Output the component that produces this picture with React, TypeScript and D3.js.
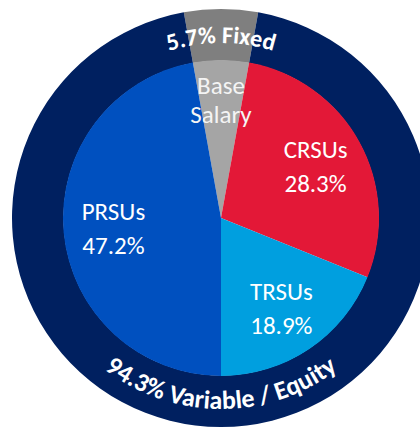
import { useEffect, useRef } from "react";
import * as d3 from "d3";

// Outer ring: fixed vs variable pay
const ringLabels = ["5.7% Fixed", "94.3% Variable / Equity"];
const ringValues = [5.7, 94.3];
const ringColors = ["#7f7f7f", "#002060"];

// Inner pie: pay components
const sliceNames = ["Base Salary", "CRSUs", "TRSUs", "PRSUs"];
const sliceValues = [5.7, 28.3, 18.9, 47.2];
const sliceColors = ["#a5a5a5", "#e31837", "#009fdf", "#0050bf"];

const W = 420;
const H = 429;

export default function App() {
  const svgRef = useRef<SVGSVGElement>(null);

  useEffect(() => {
    if (!svgRef.current) return;
    const svg = d3.select(svgRef.current);
    svg.selectAll("*").remove();

    const cx = 221;
    const cy = 218;
    const rPie = 158;
    const rRing = 209;
    const start = -(ringValues[0] / 100) * Math.PI;

    const g = svg.append("g").attr("transform", `translate(${cx},${cy})`);

    // Outer ring
    const ringPie = d3
      .pie<number>()
      .sort(null)
      .value((d) => d)
      .startAngle(start)
      .endAngle(start + 2 * Math.PI);
    const ringArc = d3.arc<d3.PieArcDatum<number>>().innerRadius(rPie - 0.5).outerRadius(rRing);
    const ringData = ringPie(ringValues);

    g.selectAll("path.ring")
      .data(ringData)
      .join("path")
      .attr("class", "ring")
      .attr("d", ringArc)
      .attr("fill", (_d, i) => ringColors[i]);

    // Inner pie
    const pie = d3
      .pie<number>()
      .sort(null)
      .value((d) => d)
      .startAngle(start)
      .endAngle(start + 2 * Math.PI);
    const arc = d3.arc<d3.PieArcDatum<number>>().innerRadius(0).outerRadius(rPie);
    const pieData = pie(sliceValues);

    g.selectAll("path.slice")
      .data(pieData)
      .join("path")
      .attr("class", "slice")
      .attr("d", arc)
      .attr("fill", (_d, i) => sliceColors[i]);

    // Slice labels
    const labelArc = d3.arc<d3.PieArcDatum<number>>().innerRadius(108).outerRadius(108);
    const baseArc = d3.arc<d3.PieArcDatum<number>>().innerRadius(119).outerRadius(119);
    pieData.forEach((d, i) => {
      const isBase = i === 0;
      const [x, y] = isBase ? baseArc.centroid(d) : labelArc.centroid(d);
      const lines = isBase
        ? sliceNames[i].split(" ")
        : [sliceNames[i], `${sliceValues[i].toFixed(1)}%`];
      const lh = isBase ? 29 : 34;
      const t = g
        .append("text")
        .attr("text-anchor", "middle")
        .attr("font-family", "Carlito, Lato, sans-serif")
        .attr("font-size", 25)
        .attr("fill", isBase ? "#f4f4f4" : "#ffffff");
      lines.forEach((ln, j) => {
        t.append("tspan")
          .attr("x", x)
          .attr("y", y + (j - (lines.length - 1) / 2) * lh + 9)
          .text(ln);
      });
    });

    // Curved ring labels
    const defs = svg.append("defs");
    const topR = 175;
    const botR = 191;
    const cwPath = d3.path();
    cwPath.arc(0, 0, topR, Math.PI / 2, Math.PI / 2 + 2 * Math.PI - 0.0001);
    defs
      .append("path")
      .attr("id", "ringTop")
      .attr("transform", `translate(${cx},${cy})`)
      .attr("d", cwPath.toString());
    const ccwPath = d3.path();
    ccwPath.arc(0, 0, botR, -Math.PI / 2, -Math.PI / 2 - 2 * Math.PI + 0.0001, true);
    defs
      .append("path")
      .attr("id", "ringBot")
      .attr("transform", `translate(${cx},${cy})`)
      .attr("d", ccwPath.toString());

    const twoPi = 2 * Math.PI;
    ringData.forEach((d, i) => {
      const mid = (d.startAngle + d.endAngle) / 2;
      const onTop = Math.cos(mid) > 0;
      const frac = onTop
        ? ((((mid - Math.PI) % twoPi) + twoPi) % twoPi) / twoPi
        : ((((-mid) % twoPi) + twoPi) % twoPi) / twoPi;
      svg
        .append("text")
        .attr("font-family", "Carlito, Lato, sans-serif")
        .attr("font-weight", "bold")
        .attr("font-size", onTop ? 24 : 26)
        .attr("fill", "#ffffff")
        .append("textPath")
        .attr("href", onTop ? "#ringTop" : "#ringBot")
        .attr("startOffset", `${(frac * 100).toFixed(3)}%`)
        .attr("text-anchor", "middle")
        .text(ringLabels[i]);
    });
  }, []);

  return (
    <svg
      ref={svgRef}
      width={W}
      height={H}
      style={{ position: "absolute", left: 0, top: 0, background: "#ffffff" }}
    />
  );
}
